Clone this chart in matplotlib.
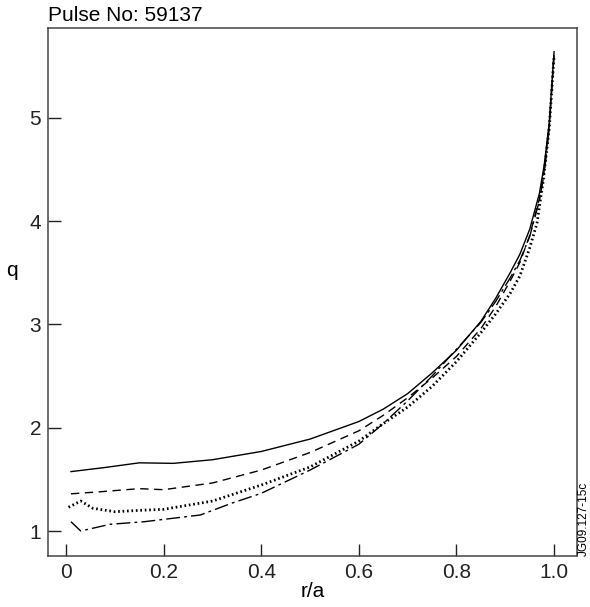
import matplotlib
matplotlib.use('Agg')
import matplotlib.pyplot as plt

plt.rcParams['font.family'] = ['Liberation Sans', 'DejaVu Sans']

# q profiles
r_solid = [0.01, 0.08, 0.15, 0.22, 0.30, 0.40, 0.50, 0.60, 0.65, 0.70, 0.75, 0.80,
           0.85, 0.88, 0.91, 0.93, 0.95, 0.97, 0.98, 0.99, 1.0]
q_solid = [1.575, 1.615, 1.66, 1.655, 1.69, 1.77, 1.89, 2.06, 2.18, 2.33, 2.53, 2.75,
           3.03, 3.25, 3.50, 3.68, 3.92, 4.27, 4.55, 4.95, 5.64]

r_dash = [0.01, 0.07, 0.15, 0.20, 0.30, 0.40, 0.50, 0.60, 0.65, 0.70, 0.75, 0.80,
          0.85, 0.88, 0.91, 0.93, 0.95, 0.97, 0.98, 0.99, 1.0]
q_dash = [1.36, 1.38, 1.41, 1.40, 1.465, 1.59, 1.76, 1.97, 2.12, 2.29, 2.48, 2.69,
          2.96, 3.17, 3.42, 3.60, 3.86, 4.22, 4.50, 4.92, 5.62]

r_dot = [0.005, 0.03, 0.055, 0.10, 0.15, 0.20, 0.30, 0.40, 0.50, 0.60, 0.65, 0.70,
         0.75, 0.80, 0.85, 0.88, 0.91, 0.93, 0.95, 0.965, 0.978, 0.99, 1.0]
q_dot = [1.23, 1.29, 1.22, 1.187, 1.20, 1.21, 1.29, 1.445, 1.62, 1.87, 2.04, 2.20,
         2.40, 2.64, 2.92, 3.10, 3.30, 3.47, 3.74, 3.98, 4.40, 4.90, 5.60]

r_dashdot = [0.01, 0.03, 0.09, 0.16, 0.275, 0.34, 0.40, 0.50, 0.60, 0.65, 0.70, 0.75,
             0.80, 0.85, 0.88, 0.91, 0.93, 0.95, 0.97, 0.98, 0.99, 1.0]
q_dashdot = [1.09, 1.0, 1.065, 1.09, 1.155, 1.27, 1.365, 1.59, 1.84, 2.04, 2.26, 2.50,
             2.76, 3.02, 3.22, 3.45, 3.62, 3.85, 4.20, 4.47, 4.90, 5.62]

x_ticks = [0, 0.2, 0.4, 0.6, 0.8, 1.0]
x_labels = ['0', '0.2', '0.4', '0.6', '0.8', '1.0']
y_ticks = [1, 2, 3, 4, 5]

fig = plt.figure(figsize=(5.9, 6.07), dpi=100)
ax = fig.add_axes([0.0814, 0.084, 0.8966, 0.870])

ax.plot(r_solid, q_solid, color='black', lw=1.0, ls='-')
ax.plot(r_dash, q_dash, color='black', lw=1.0, ls=(0, (6, 4)))
ax.plot(r_dot, q_dot, color='black', lw=2.0, ls=(0, (0.6, 1.0)))
ax.plot(r_dashdot, q_dashdot, color='black', lw=1.0, ls=(0, (10, 3, 2, 3)))

ax.set_xlim(-0.037, 1.047)
ax.set_ylim(0.758, 5.87)
ax.set_xticks(x_ticks)
ax.set_xticklabels(x_labels)
ax.set_yticks(y_ticks)
ax.tick_params(direction='in', length=9, width=1.0, labelsize=15, pad=5, colors='#222222')
for s in ax.spines.values():
    s.set_color('#444444')
    s.set_linewidth(1.1)

ax.set_xlabel('r/a', fontsize=15, labelpad=0)
fig.text(0.02, 0.555, 'q', fontsize=15, ha='center', va='center')
fig.text(0.0814, 0.958, 'Pulse No: 59137', fontsize=15, ha='left', va='bottom')
fig.text(0.99, 0.084, 'JG09.127-15c', fontsize=8.5, rotation=90, ha='center', va='bottom')

fig.savefig('out.png', dpi=100)
